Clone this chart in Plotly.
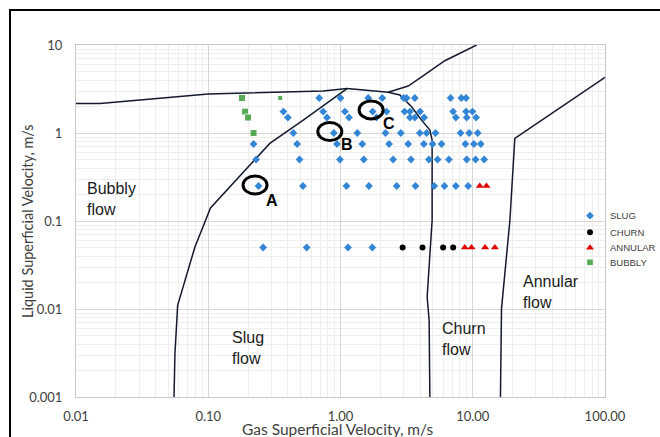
import math
import plotly.graph_objects as go

# ---------------- data ----------------
slug_x = [0.69, 1.0, 1.62, 2.07, 3.0, 3.16, 3.65, 6.8, 8.2, 8.9,
          0.37, 0.74, 1.08, 1.75, 2.23, 3.05, 3.35, 4.0, 7.1, 8.9, 9.95,
          0.40, 0.79, 1.16, 1.87, 3.35, 3.65, 4.29, 7.45, 9.0, 10.6,
          0.44, 0.89, 1.34, 2.19, 2.86, 3.98, 4.48, 5.23, 8.09, 9.4, 10.9,
          0.22, 0.47, 0.94, 1.46, 2.33, 3.25, 4.27, 4.97, 5.81, 8.8, 10.2, 11.5,
          0.23, 0.49, 0.99, 1.50, 2.50, 3.41, 4.66, 5.42, 6.60, 9.0, 10.5, 12.2,
          0.24, 0.52, 1.11, 1.64, 2.66, 3.69, 5.11, 6.11, 7.45, 9.23,
          0.26, 0.555, 1.14, 1.74]
slug_y = ([2.5] * 10 + [1.75] * 11 + [1.5] * 10 + [1.0] * 11 +
          [0.75] * 12 + [0.5] * 12 + [0.25] * 10 + [0.05] * 4)

churn_x = [2.95, 4.17, 5.97, 7.11]
churn_y = [0.05, 0.05, 0.05, 0.05]

annular_x = [11.3, 12.7, 8.71, 9.79, 12.4, 14.7]
annular_y = [0.25, 0.25, 0.05, 0.05, 0.05, 0.05]

bubbly_x = [0.18, 0.35, 0.19, 0.20, 0.22]
bubbly_y = [2.5, 2.5, 1.75, 1.5, 1.0]

# regime boundary curves
bs_x = [0.0551, 0.056, 0.0587, 0.0793, 0.104, 0.195, 0.292, 0.523, 0.832, 1.12]
bs_y = [0.001, 0.00313, 0.011, 0.0507, 0.141, 0.396, 0.762, 1.40, 2.34, 3.2]
top_x = [0.01, 0.0152, 0.1, 0.74, 1.12]
top_y = [2.17, 2.17, 2.77, 3.0, 3.2]
sc_x = [1.12, 2.29, 2.81, 3.45, 4.10, 4.74, 4.93, 4.93, 4.52, 4.68, 4.74]
sc_y = [3.2, 2.90, 2.70, 1.99, 1.40, 1.08, 0.83, 0.102, 0.0137, 0.0074, 0.001]
ct_x = [2.29, 3.25, 4.48, 6.15, 10.7]
ct_y = [2.90, 3.42, 4.77, 6.63, 10.0]
an_x = [100.0, 20.8, 19.1, 16.5, 16.2]
an_y = [4.30, 0.869, 0.102, 0.0101, 0.001]

# highlighted cases
case_names = ["A", "B", "C"]
case_x = [0.24, 0.89, 1.75]
case_y = [0.25, 1.0, 1.75]

x_tickvals = [0.01, 0.1, 1, 10, 100]
x_ticktext = ["0.01", "0.10", "1.00", "10.00", "100.00"]
y_tickvals = [0.001, 0.01, 0.1, 1, 10]
y_ticktext = ["0.001", "0.01", "0.1", "1", "10"]

regions = [("Bubbly<br>flow", 0.0117, 0.18), ("Slug<br>flow", 0.146, 0.0036),
           ("Churn<br>flow", 5.64, 0.0046), ("Annular<br>flow", 23.1, 0.0155)]

# ---------------- layout geometry ----------------
OFF = 0  # body margin is removed by the post script
W, H = 660 - OFF, 437 - OFF
ML, MR, MT, MB = 76 - OFF, 55, 45 - OFF, 40
PW, PH = W - ML - MR, H - MT - MB
XDEC, YDEC = PW / 4.0, PH / 4.0   # pixels per decade


def px_to_paper_x(px):
    return (px - OFF - ML) / PW


def px_to_paper_y(py):
    return (MT + PH - (py - OFF)) / PH


fig = go.Figure()
line_style = dict(color="#141a2e", width=1.5)
for cx, cy in [(bs_x, bs_y), (top_x, top_y), (sc_x, sc_y), (ct_x, ct_y), (an_x, an_y)]:
    fig.add_trace(go.Scatter(x=cx, y=cy, mode="lines", line=line_style,
                             showlegend=False, hoverinfo="skip"))

NB = "\u00a0\u00a0"
fig.add_trace(go.Scatter(x=slug_x, y=slug_y, mode="markers", name="SLUG" + NB, legend="legend",
                         marker=dict(symbol="diamond", size=6, color="#3385d6")))
fig.add_trace(go.Scatter(x=churn_x, y=churn_y, mode="markers", name="CHURN" + NB, legend="legend2",
                         marker=dict(symbol="circle", size=6, color="#000000")))
fig.add_trace(go.Scatter(x=annular_x, y=annular_y, mode="markers", name="ANNULAR" + NB, legend="legend3",
                         marker=dict(symbol="triangle-up", size=7, color="#e00000")))
fig.add_trace(go.Scatter(x=bubbly_x, y=bubbly_y, mode="markers", name="BUBBLY" + NB, legend="legend4",
                         marker=dict(symbol="square", size=[7, 5, 7, 7, 7], color="#128a12")))

# ellipses around cases
circ_off = [(-3.5, 1.0), (-4.0, 1.5), (-1.5, 1.7)]
lab_off = [(13, -15), (13, -11), (16, -12)]
for i, nm in enumerate(case_names):
    ox, oy = circ_off[i]
    fig.add_shape(type="circle", xref="x", yref="y",
                  x0=case_x[i] * 10 ** ((ox - 12) / XDEC), x1=case_x[i] * 10 ** ((ox + 12) / XDEC),
                  y0=case_y[i] * 10 ** ((oy - 9) / YDEC), y1=case_y[i] * 10 ** ((oy + 9) / YDEC),
                  line=dict(color="black", width=3))
    lx, ly = lab_off[i]
    fig.add_annotation(x=math.log10(case_x[i]), y=math.log10(case_y[i]), text="<b>%s</b>" % nm,
                       showarrow=False, xshift=lx, yshift=ly,
                       font=dict(family="Liberation Sans, Arial", size=16, color="black"))

for txt, rx, ry in regions:
    fig.add_annotation(x=math.log10(rx), y=math.log10(ry), text=txt, showarrow=False,
                       xanchor="left", align="left",
                       font=dict(family="Liberation Sans, Arial", size=16, color="#1a1a1a"))

# axis titles placed explicitly
fig.add_annotation(xref="paper", yref="paper", x=px_to_paper_x(27), y=px_to_paper_y(221),
                   text="Liquid Superficial Velocity, m/s", textangle=-90, showarrow=False,
                   xanchor="center", yanchor="middle",
                   font=dict(family="Lato", size=14.5, color="#404040"))
fig.add_annotation(xref="paper", yref="paper", x=px_to_paper_x(338), y=px_to_paper_y(428.5),
                   text="Gas Superficial Velocity, m/s", showarrow=False,
                   xanchor="center", yanchor="middle",
                   font=dict(family="Lato", size=15.5, color="#404040"))

# outer frame
fig.add_shape(type="rect", xref="paper", yref="paper",
              x0=px_to_paper_x(10), x1=px_to_paper_x(672),
              y0=px_to_paper_y(450), y1=px_to_paper_y(10),
              line=dict(color="black", width=2), layer="above")

axis_common = dict(type="log", showline=True, mirror=True, linecolor="#c8c8c8", linewidth=1,
                   showgrid=True, gridcolor="#d6d6d6", gridwidth=1, zeroline=False,
                   automargin=False,
                   ticks="", tickfont=dict(family="Lato", size=13, color="#404040"),
                   minor=dict(dtick="D1", showgrid=True, gridcolor="#eeeeee", gridwidth=1, ticks=""))

fig.update_xaxes(**axis_common, range=[-2, 2], tickmode="array",
                 tickvals=x_tickvals, ticktext=x_ticktext, ticklabelstandoff=7)
fig.update_yaxes(**axis_common, range=[-3, 1], tickmode="array",
                 tickvals=y_tickvals, ticktext=y_ticktext, ticklabelstandoff=10)

leg_centers = [215.7, 232.3, 247.7, 262.3]
leg_common = dict(x=px_to_paper_x(570), xanchor="left", yanchor="middle",
                  bgcolor="rgba(0,0,0,0)",
                  font=dict(family="Liberation Sans, Arial", size=9.5, color="#404040"),
                  itemwidth=30)
fig.update_layout(
    width=W, height=H,
    margin=dict(l=ML, r=MR, t=MT, b=MB, autoexpand=False),
    paper_bgcolor="white", plot_bgcolor="white",
    showlegend=True,
    legend=dict(leg_common, y=px_to_paper_y(leg_centers[0])),
    legend2=dict(leg_common, y=px_to_paper_y(leg_centers[1])),
    legend3=dict(leg_common, y=px_to_paper_y(leg_centers[2])),
    legend4=dict(leg_common, y=px_to_paper_y(leg_centers[3])),
)

fig.write_html("out.html", config={"displayModeBar": False},
               post_script="document.body.style.margin='0px';document.body.style.overflow='hidden';")
